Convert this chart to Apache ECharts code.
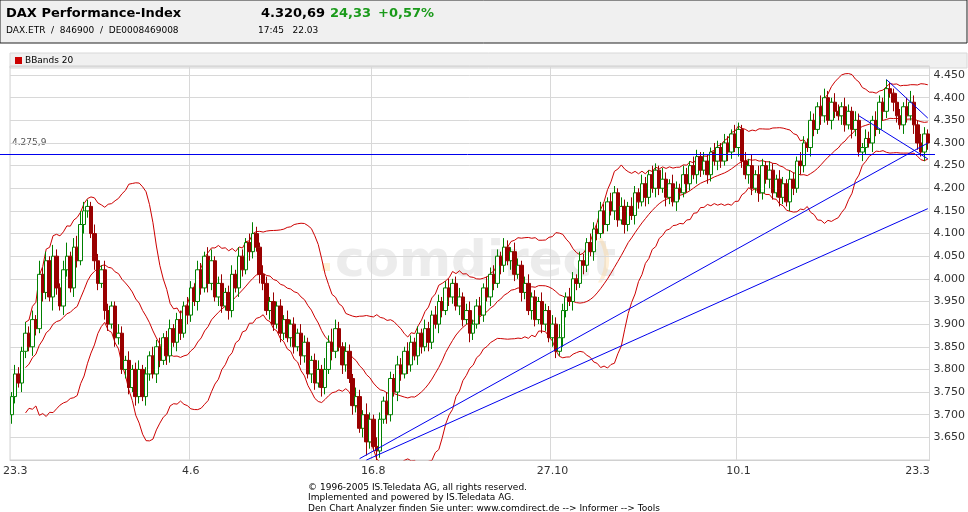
<!DOCTYPE html>
<html>
<head>
<meta charset="utf-8">
<script src="https://cdn.jsdelivr.net/npm/echarts@6/dist/echarts.min.js"></script>
<style>
  body { margin: 0; background: #fff; }
  #chart { width: 968px; height: 512px; }
</style>
</head>
<body>
<div id="chart"></div>
<script>
// Tageskurse (ca. 22.3.2004 - 24.3.2005)
var closes = [
  3740,3790,3770,3840,3880,3850,3910,3890,4010,3970,
  4040,3960,4050,3980,3940,4020,4050,3980,4070,4040,
  4120,4150,4160,4100,4040,3990,4020,3930,3900,3940,
  3870,3880,3800,3820,3760,3800,3740,3800,3740,3790,
  3830,3790,3850,3820,3870,3830,3890,3860,3910,3880,
  3940,3920,3980,3950,4020,3980,4050,3990,4040,3960,
  3990,3940,3970,3930,4010,3980,4050,4020,4080,4060,
  4100,4070,4010,3990,3930,3950,3900,3940,3880,3910,
  3870,3900,3850,3880,3830,3860,3790,3820,3770,3800,
  3760,3800,3860,3840,3890,3850,3810,3840,3780,3720,
  3740,3670,3700,3640,3690,3630,3620,3690,3730,3700,
  3780,3750,3810,3790,3840,3810,3860,3830,3880,3850,
  3890,3860,3920,3900,3950,3930,3980,3960,3990,3940,
  3960,3910,3930,3880,3900,3940,3920,3980,3960,4010,
  3990,4050,4030,4070,4040,4060,4010,4030,3970,3990,
  3930,3960,3910,3950,3900,3930,3870,3900,3840,3870,
  3930,3960,3950,4000,3990,4040,4030,4080,4060,4110,
  4100,4150,4120,4170,4150,4190,4130,4160,4120,4160,
  4140,4190,4170,4210,4180,4230,4200,4240,4200,4220,
  4180,4210,4170,4200,4190,4230,4210,4250,4230,4270,
  4240,4260,4230,4280,4260,4290,4260,4300,4280,4320,
  4290,4330,4260,4230,4250,4200,4230,4190,4250,4220,
  4240,4190,4220,4180,4210,4170,4220,4200,4260,4250,
  4300,4290,4350,4330,4380,4360,4400,4350,4390,4370,
  4360,4380,4340,4370,4330,4350,4280,4290,4310,4300,
  4350,4330,4390,4370,4420,4410,4390,4360,4340,4380,
  4360,4390,4340,4300,4280,4320,4300
];
var opens = [
  3700,3740,3790,3770,3840,3880,3850,3910,3890,4010,
  3970,4040,3960,4050,3980,3940,4020,4050,3980,4070,
  4040,4120,4150,4160,4100,4040,3990,4020,3930,3900,
  3940,3870,3880,3800,3820,3760,3800,3740,3800,3740,
  3790,3830,3790,3850,3820,3870,3830,3890,3860,3910,
  3880,3940,3920,3980,3950,4020,3980,4050,3990,4040,
  3960,3990,3940,3970,3930,4010,3980,4050,4020,4080,
  4060,4100,4070,4010,3990,3930,3950,3900,3940,3880,
  3910,3870,3900,3850,3880,3830,3860,3790,3820,3770,
  3800,3760,3800,3860,3840,3890,3850,3810,3840,3780,
  3720,3740,3670,3700,3640,3690,3630,3620,3690,3730,
  3700,3780,3750,3810,3790,3840,3810,3860,3830,3880,
  3850,3890,3860,3920,3900,3950,3930,3980,3960,3990,
  3940,3960,3910,3930,3880,3900,3940,3920,3980,3960,
  4010,3990,4050,4030,4070,4040,4060,4010,4030,3970,
  3990,3930,3960,3910,3950,3900,3930,3870,3900,3840,
  3870,3930,3960,3950,4000,3990,4040,4030,4080,4060,
  4110,4100,4150,4120,4170,4150,4190,4130,4160,4120,
  4160,4140,4190,4170,4210,4180,4230,4200,4240,4200,
  4220,4180,4210,4170,4200,4190,4230,4210,4250,4230,
  4270,4240,4260,4230,4280,4260,4290,4260,4300,4280,
  4320,4290,4330,4260,4230,4250,4200,4230,4190,4250,
  4220,4240,4190,4220,4180,4210,4170,4220,4200,4260,
  4250,4300,4290,4350,4330,4380,4360,4400,4350,4390,
  4370,4360,4380,4340,4370,4330,4350,4280,4290,4310,
  4300,4350,4330,4390,4370,4420,4410,4390,4360,4340,
  4380,4360,4390,4340,4300,4280,4320
];
// Dochtlängen oben / unten
var wickUp = [
  10,20,15,10,25,15,20,10,30,15, 20,10,25,15,10,20,30,10,20,25,
  30,20,15,10,20,15,10,20,15,10, 10,20,15,10,20,10,15,20,10,15,
  10,20,15,20,10,15,20,10,15,20, 10,20,15,10,20,15,10,20,25,10,
  15,20,10,15,20,10,20,15,10,20, 25,15,10,20,15,10,20,10,15,10,
  20,10,15,10,20,15,10,10,15,20, 10,25,15,30,20,15,10,20,15,10,
  20,15,10,25,15,10,20,15,10,20, 15,10,20,15,10,20,15,10,15,10,
  20,15,10,20,15,10,15,20,10,15, 20,10,15,20,10,15,20,10,25,15,
  20,15,10,20,15,10,20,15,10,15, 20,10,15,10,20,15,10,20,15,30,
  15,10,20,15,10,20,15,10,20,15, 10,20,15,10,20,15,10,20,15,10,
  20,15,10,20,15,10,20,15,10,25, 15,10,20,15,10,20,15,10,20,15,
  10,20,15,10,20,15,10,20,15,10, 20,15,10,20,15,25,10,20,15,10,
  20,15,10,20,15,10,20,15,10,20, 15,10,20,15,10,25,20,15,10,20,
  15,10,20,15,10,20,15,10,20,15, 10,20,15,10,20,15,10,20,15,10,
  20,25,15,10,20,15,10
];
var wickDn = [
  20,15,10,20,15,10,20,15,10,20, 15,10,30,15,10,20,15,10,20,15,
  10,20,15,10,20,15,10,20,15,10, 20,15,10,20,15,10,20,15,10,20,
  15,10,20,15,10,20,15,10,20,15, 10,20,15,10,20,15,10,20,15,10,
  20,15,10,20,15,10,20,15,10,20, 15,10,20,15,10,20,15,10,20,15,
  10,20,15,10,20,15,10,20,15,10, 20,15,10,20,15,10,20,15,10,20,
  15,10,20,30,15,10,20,15,10,20, 15,10,20,15,10,20,15,10,20,15,
  10,20,15,10,20,15,10,20,15,10, 20,15,10,20,15,10,20,15,10,20,
  15,10,20,15,10,20,15,10,20,15, 10,20,15,10,20,15,10,20,15,10,
  20,15,10,20,15,10,20,15,10,20, 15,10,20,15,10,20,15,10,20,15,
  10,20,15,10,20,15,10,20,15,10, 20,15,10,20,15,10,20,15,10,20,
  15,10,20,15,10,20,15,10,20,15, 10,20,15,10,20,15,10,20,15,10,
  20,15,10,20,15,10,20,15,10,20, 15,10,20,15,10,20,15,10,20,15,
  10,20,15,10,20,15,10,20,15,10, 20,15,10,20,15,10,20,15,10,20,
  15,10,20,15,10,20,15
];
var tickIdx = [1, 52, 105, 157, 211, 263];
var tickLabels = ['23.3', '4.6', '16.8', '27.10', '10.1', '23.3'];
var refLevel = 4275.9;
// Trendlinien [startIdx, startWert, endIdx, endWert]
var trendLines = [
  [101, 3603, 266, 4300],
  [103, 3600, 266, 4155],
  [254, 4440, 266, 4355],
  [246, 4360, 266, 4265]
];

var days = [];
var candles = [];
for (var i = 0; i < closes.length; i++) {
  days.push(String(i));
  var o = opens[i], c = closes[i];
  candles.push([o, c, Math.min(o, c) - wickDn[i], Math.max(o, c) + wickUp[i]]);
}

//BBands 20
var mid = [], upper = [], lower = [];
for (var i = 0; i < closes.length; i++) {
  var from = Math.max(0, i - 19);
  if (i < 4) { mid.push('-'); upper.push('-'); lower.push('-'); continue; }
  var win = closes.slice(from, i + 1);
  var m = win.reduce(function (a, b) { return a + b; }, 0) / win.length;
  var v = win.reduce(function (a, b) { return a + (b - m) * (b - m); }, 0) / win.length;
  var sd = Math.sqrt(v);
  mid.push(+m.toFixed(1));
  upper.push(+(m + 2 * sd).toFixed(1));
  lower.push(+(m - 2 * sd).toFixed(1));
}

function fmt(v) {
  var s = String(Math.round(v));
  return s.length > 3 ? s.slice(0, s.length - 3) + '.' + s.slice(-3) : s;
}

var chart = echarts.init(document.getElementById('chart'));
var bandStyle = { color: '#cc0000', width: 1 };

var option = {
  animation: false,
  backgroundColor: '#fff',
  graphic: [
    { type: 'rect', shape: { x: 0, y: 0, width: 967, height: 43 }, style: { fill: '#f0f0f0', stroke: '#222', lineWidth: 1 }, z: -1 },
    { type: 'text', left: 6, top: 7, style: { text: 'DAX Performance-Index', font: 'bold 13px "DejaVu Sans", sans-serif', fill: '#000' } },
    { type: 'text', left: 6, top: 26, style: { text: 'DAX.ETR  /  846900  /  DE0008469008', font: '9px "DejaVu Sans", sans-serif', fill: '#000' } },
    { type: 'text', left: 261, top: 7, style: { text: '4.320,69', font: 'bold 13px "DejaVu Sans", sans-serif', fill: '#000' } },
    { type: 'text', left: 330, top: 7, style: { text: '24,33', font: 'bold 13px "DejaVu Sans", sans-serif', fill: '#1a9a1a' } },
    { type: 'text', left: 378, top: 7, style: { text: '+0,57%', font: 'bold 13px "DejaVu Sans", sans-serif', fill: '#1a9a1a' } },
    { type: 'text', left: 258, top: 26, style: { text: '17:45   22.03', font: '9px "DejaVu Sans", sans-serif', fill: '#000' } },
    { type: 'rect', shape: { x: 10, y: 53, width: 957, height: 15 }, style: { fill: '#f0f0f0', stroke: '#d8d8d8', lineWidth: 1 }, z: -1 },
    { type: 'rect', shape: { x: 15, y: 57, width: 7, height: 7 }, style: { fill: '#cc0000' } },
    { type: 'text', left: 25, top: 56, style: { text: 'BBands 20', font: '9px "DejaVu Sans", sans-serif', fill: '#000' } },
    { type: 'text', left: 335, top: 238, z: -1, style: { text: 'comdirect', font: 'bold 50px "DejaVu Sans", sans-serif', fill: 'rgba(200,200,200,0.35)' } },
    { type: 'rect', shape: { x: 322, y: 263, width: 8, height: 8 }, z: -1, style: { fill: 'rgba(255,220,150,0.4)' } },
    { type: 'text', left: 594, top: 238, z: -1, style: { text: ')', font: '50px "DejaVu Sans", sans-serif', fill: 'rgba(255,210,140,0.35)' } },
    { type: 'text', left: 12, top: 138, style: { text: fmt(4275) + ',9', font: '9px "DejaVu Sans", sans-serif', fill: '#555' } },
    { type: 'text', left: 'center', top: 482, style: { text: '© 1996-2005 IS.Teledata AG, all rights reserved.\nImplemented and powered by IS.Teledata AG.\nDen Chart Analyzer finden Sie unter: www.comdirect.de --> Informer --> Tools', font: '9px "DejaVu Sans", sans-serif', fill: '#000', align: 'center', lineHeight: 10.5 } }
  ],
  grid: { left: 10, right: 33, top: 66, bottom: 52, show: true, borderColor: '#d0d0d0', borderWidth: 1 },
  xAxis: {
    type: 'category',
    data: days,
    boundaryGap: true,
    axisLine: { lineStyle: { color: '#d0d0d0' } },
    axisTick: { show: false },
    axisLabel: {
      interval: function (idx) { return tickIdx.indexOf(idx) >= 0; },
      formatter: function (val, idx) { return tickLabels[tickIdx.indexOf(idx)]; },
      color: '#333', fontSize: 11, fontFamily: 'DejaVu Sans', margin: 6
    },
    splitLine: {
      show: true,
      interval: function (idx) { return idx > 1 && idx < 250 && tickIdx.indexOf(idx) >= 0; },
      lineStyle: { color: '#d8d8d8' }
    }
  },
  yAxis: {
    type: 'value',
    position: 'right',
    min: 3600,
    max: 4470,
    interval: 50,
    axisLine: { show: false },
    axisTick: { show: false },
    axisLabel: {
      showMinLabel: false, showMaxLabel: false,
      formatter: fmt, color: '#333', fontSize: 11, fontFamily: 'DejaVu Sans', margin: 4
    },
    splitLine: { lineStyle: { color: '#d8d8d8' } }
  },
  series: [
    { type: 'line', data: upper, symbol: 'none', lineStyle: bandStyle, z: 2 },
    { type: 'line', data: mid, symbol: 'none', lineStyle: bandStyle, z: 2 },
    { type: 'line', data: lower, symbol: 'none', lineStyle: bandStyle, z: 2 },
    {
      type: 'candlestick',
      data: candles,
      barWidth: 4,
      z: 3,
      itemStyle: { color: '#fff', color0: '#990000', borderColor: '#008000', borderColor0: '#990000', borderWidth: 1 }
    },
    {
      type: 'line',
      data: [],
      z: 4,
      markLine: {
        symbol: 'none',
        silent: true,
        label: { show: false },
        lineStyle: { color: '#0000ee', width: 1, type: 'solid' },
        data: trendLines.map(function (t) {
          return [{ coord: [String(t[0]), t[1]] }, { coord: [String(t[2]), t[3]] }];
        }).concat([[{ x: 0, yAxis: refLevel }, { x: 935, yAxis: refLevel }]])
      }
    }
  ]
};

chart.setOption(option);
</script>
</body>
</html>
